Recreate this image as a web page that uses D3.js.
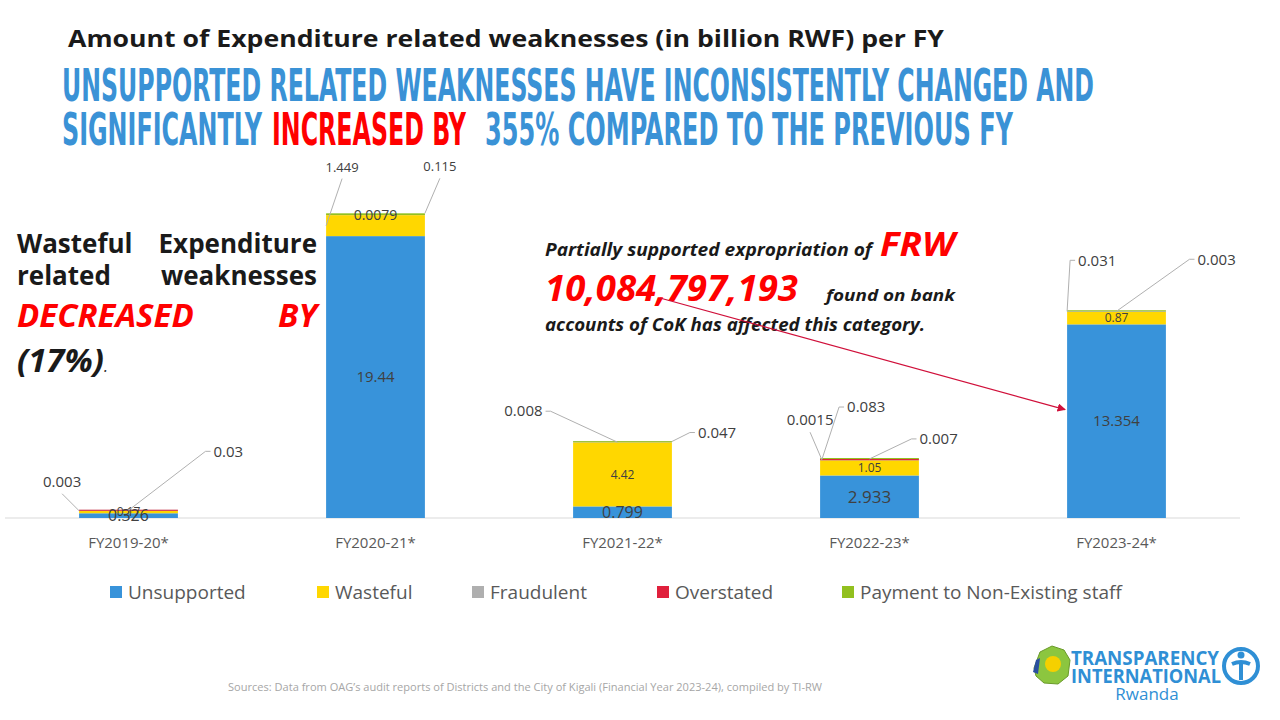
<!DOCTYPE html>
<html>
<head>
<meta charset="utf-8">
<script src="https://cdn.jsdelivr.net/npm/d3@7.9.0/dist/d3.min.js"></script>
<style>
  html, body { margin: 0; padding: 0; background: #fff; }
  svg { display: block; font-family: "Open Sans", sans-serif; }
</style>
</head>
<body>
<svg id="chart" width="1280" height="720"></svg>
<script>
// data (billion RWF)
const years = ['FY2019-20*', 'FY2020-21*', 'FY2021-22*', 'FY2022-23*', 'FY2023-24*'];
const unsupported = [0.326, 19.44, 0.799, 2.933, 13.354];
const wasteful    = [0.17, 1.449, 4.42, 1.05, 0.87];
const fraudulent  = [0.003, 0.0079, 0.008, 0.0015, 0.031];
const overstated  = [0.03, 0, 0, 0.083, 0];
const nonExisting = [0, 0.115, 0.047, 0.007, 0.003];

const series = [
  { key: 'unsupported', label: 'Unsupported', color: '#3893da', values: unsupported },
  { key: 'wasteful',    label: 'Wasteful',    color: '#ffd700', values: wasteful },
  { key: 'fraudulent',  label: 'Fraudulent',  color: '#afafaf', values: fraudulent },
  { key: 'overstated',  label: 'Overstated',  color: '#e0203c', values: overstated },
  { key: 'nonExisting', label: 'Payment to Non-Existing staff', color: '#92c01f', values: nonExisting }
];

// which values are printed inside the bar, and which get a leader line
const insideLabels = [
  { year: 0, key: 'unsupported', size: 16 }, { year: 0, key: 'wasteful', size: 12 },
  { year: 1, key: 'unsupported', size: 15 }, { year: 1, key: 'fraudulent', size: 14 },
  { year: 2, key: 'unsupported', size: 16 }, { year: 2, key: 'wasteful', size: 12 },
  { year: 3, key: 'unsupported', size: 17 }, { year: 3, key: 'wasteful', size: 12 },
  { year: 4, key: 'unsupported', size: 15 }, { year: 4, key: 'wasteful', size: 12 }
];
const callouts = [
  { year: 0, key: 'fraudulent',  frac: 0,    at: 'top', dx: -17, dy: -17, side: 'middle' },
  { year: 0, key: 'overstated',  frac: 0.5,  at: 'top', dx: 77,  dy: -59, side: 'start' },
  { year: 1, key: 'wasteful',    frac: 0,    at: 'mid', dx: 16,  dy: -47, side: 'middle' },
  { year: 1, key: 'nonExisting', frac: 1,    at: 'top', dx: 15,  dy: -35, side: 'middle' },
  { year: 2, key: 'fraudulent',  frac: 0.45, at: 'top', dx: -67, dy: -31, side: 'end' },
  { year: 2, key: 'nonExisting', frac: 1,    at: 'top', dx: 18,  dy: -9,  side: 'start' },
  { year: 3, key: 'fraudulent',  frac: 0.02, at: 'top', dx: -12, dy: -28, side: 'middle' },
  { year: 3, key: 'overstated',  frac: 0.02, at: 'top', dx: 17,  dy: -52, side: 'start' },
  { year: 3, key: 'nonExisting', frac: 0.5,  at: 'top', dx: 42,  dy: -20, side: 'start' },
  { year: 4, key: 'fraudulent',  frac: 0,    at: 'top', dx: 3,   dy: -51, side: 'start' },
  { year: 4, key: 'nonExisting', frac: 0.5,  at: 'top', dx: 73,  dy: -52, side: 'start' }
];

const svg = d3.select('#chart');

const x = d3.scaleBand().domain(years).range([5, 1240]).paddingInner(0.6).paddingOuter(0.3);
const y = d3.scaleLinear().domain([0, 22]).range([518, 199]);

// stack
const rows = years.map((yr, i) => {
  const r = { year: yr };
  series.forEach(s => r[s.key] = s.values[i]);
  return r;
});
const stacked = d3.stack().keys(series.map(s => s.key))(rows);
const segOf = (i, key) => stacked.find(l => l.key === key)[i];

// baseline
svg.append('line')
  .attr('x1', 5).attr('x2', 1240).attr('y1', y(0)).attr('y2', y(0))
  .attr('stroke', '#d9d9d9').attr('stroke-width', 1);

// bars
stacked.forEach((layer, li) => {
  svg.append('g').attr('fill', series[li].color)
    .selectAll('rect').data(layer).join('rect')
    .attr('x', d => x(d.data.year))
    .attr('width', x.bandwidth())
    .attr('y', d => Math.min(y(d[1]), y(d[0]) - (d[1] > d[0] ? 1 : 0)))
    .attr('height', d => d[1] > d[0] ? Math.max(1, y(d[0]) - y(d[1])) : 0);
});

// category axis labels
svg.append('g').selectAll('text').data(years).join('text')
  .attr('x', d => x(d) + x.bandwidth() / 2)
  .attr('y', 548)
  .attr('text-anchor', 'middle')
  .attr('fill', '#595959')
  .style('font-size', '15px')
  .text(d => d);

// inside labels
insideLabels.forEach(l => {
  const seg = segOf(l.year, l.key);
  svg.append('text')
    .attr('x', x(years[l.year]) + x.bandwidth() / 2)
    .attr('y', (y(seg[0]) + y(seg[1])) / 2)
    .attr('dy', '0.35em')
    .attr('text-anchor', 'middle')
    .attr('fill', '#404040')
    .style('font-size', l.size + 'px')
    .text(seg[1] - seg[0] > 0 ? series.find(s => s.key === l.key).values[l.year] : '');
});

// callouts with leader lines
callouts.forEach(c => {
  const seg = segOf(c.year, c.key);
  const ax = x(years[c.year]) + c.frac * x.bandwidth();
  const ay = c.at === 'mid' ? (y(seg[0]) + y(seg[1])) / 2 : y(seg[1]);
  const ex = ax + c.dx, ey = ay + c.dy;
  const pts = [[ax, ay], [ex, ey]];
  let tx = ex, ty = ey - 7, anchor = 'middle', dyT = '0';
  if (c.side === 'start') { pts.push([ex + 5, ey]); tx = ex + 8; ty = ey; anchor = 'start'; dyT = '0.35em'; }
  if (c.side === 'end')   { pts.push([ex - 5, ey]); tx = ex - 8; ty = ey; anchor = 'end'; dyT = '0.35em'; }
  svg.append('path')
    .attr('d', d3.line()(pts))
    .attr('fill', 'none').attr('stroke', '#b0b0b0').attr('stroke-width', 1);
  svg.append('text')
    .attr('x', tx).attr('y', ty).attr('dy', dyT)
    .attr('text-anchor', anchor)
    .attr('fill', '#404040')
    .style('font-size', c.year === 1 ? '13px' : '15px')
    .text(series.find(s => s.key === c.key).values[c.year]);
});

// legend
const legendX = [110, 317, 472, 657, 842];
series.forEach((s, i) => {
  const g = svg.append('g').attr('transform', `translate(${legendX[i]},592)`);
  g.append('rect').attr('x', 0).attr('y', -6).attr('width', 12).attr('height', 12).attr('fill', s.color);
  g.append('text').attr('x', 18).attr('dy', '0.35em')
    .attr('fill', '#595959').style('font-size', '19px').text(s.label);
});

// titles
svg.append('text')
  .attr('x', 68).attr('y', 47)
  .attr('fill', '#1a1a1a')
  .style('font-size', '23px').style('font-weight', 'bold')
  .attr('textLength', 876).attr('lengthAdjust', 'spacingAndGlyphs')
  .text('Amount of Expenditure related weaknesses (in billion RWF) per FY');

const head = (txt, x0, x1, yy, col) => svg.append('text')
  .attr('x', x0).attr('y', yy)
  .attr('fill', col)
  .style('font-family', '"DejaVu Sans Condensed", "DejaVu Sans", sans-serif')
  .style('font-size', '44px').style('font-weight', 'bold')
  .attr('textLength', x1 - x0).attr('lengthAdjust', 'spacingAndGlyphs')
  .text(txt);
head('UNSUPPORTED RELATED WEAKNESSES HAVE INCONSISTENTLY CHANGED  AND', 62, 1094, 101, '#3a92d6');
head('SIGNIFICANTLY', 62, 262, 145, '#3a92d6');
head('INCREASED BY', 272, 466, 145, '#ff0000');
head('355% COMPARED TO THE PREVIOUS FY', 485, 1013, 145, '#3a92d6');

// left annotation (justified)
const just = (l, yy, size, col, italic) => {
  [[l[0], 17, 'start'], [l[1], 317, 'end']].forEach(([t, xx, a]) => {
    svg.append('text').attr('x', xx).attr('y', yy).attr('text-anchor', a)
      .attr('fill', col).style('font-size', size + 'px').style('font-weight', 'bold')
      .style('font-style', italic ? 'italic' : 'normal').text(t);
  });
};
just(['Wasteful', 'Expenditure'], 253, 26, '#1a1a1a', false);
just(['related', 'weaknesses'], 285, 26, '#1a1a1a', false);
just(['DECREASED', 'BY'], 327, 33, '#ff0000', true);
const pct = svg.append('text').attr('x', 17).attr('y', 372).attr('fill', '#1a1a1a')
  .style('font-size', '33px').style('font-weight', 'bold').style('font-style', 'italic');
pct.append('tspan').text('(17%)');
pct.append('tspan').style('font-size', '16px').style('font-weight', 'normal').text('.');

// middle annotation
const note = (txt, x0, x1, yy, size, col) => svg.append('text')
  .attr('x', x0).attr('y', yy).attr('fill', col)
  .style('font-size', size + 'px').style('font-weight', 'bold').style('font-style', 'italic')
  .attr('textLength', x1 - x0).attr('lengthAdjust', 'spacingAndGlyphs')
  .text(txt);
note('Partially supported expropriation of', 545, 872, 256, 18, '#1a1a1a');
note('FRW', 880, 955, 256, 34, '#ff0000');
note('10,084,797,193', 545, 798, 301, 36, '#ff0000');
note('found on bank', 826, 955, 301, 16, '#1a1a1a');
note('accounts of CoK has affected this category.', 545, 925, 331, 17, '#1a1a1a');

// red arrow toward FY2023-24 unsupported bar
svg.append('defs').append('marker')
  .attr('id', 'arr').attr('viewBox', '0 0 10 10').attr('refX', 9).attr('refY', 5)
  .attr('markerWidth', 7).attr('markerHeight', 7).attr('orient', 'auto')
  .append('path').attr('d', 'M0,0L10,5L0,10z').attr('fill', '#d0103a');
svg.append('line')
  .attr('x1', 660).attr('y1', 298)
  .attr('x2', x(years[4]) - 2).attr('y2', y(unsupported[4] * 0.56))
  .attr('stroke', '#d0103a').attr('stroke-width', 1.2)
  .attr('marker-end', 'url(#arr)');

// source
svg.append('text').attr('x', 228).attr('y', 691)
  .attr('fill', '#a6a6a6').style('font-size', '10px')
  .attr('textLength', 594).attr('lengthAdjust', 'spacingAndGlyphs')
  .text('Sources: Data from OAG\u2019s audit reports of Districts and the City of Kigali (Financial Year 2023-24), compiled by TI-RW');

// logo
const logo = svg.append('g');
logo.append('path')
  .attr('d', 'M1034,668 L1040,652 L1052,646 L1064,650 L1070,660 L1068,676 L1058,684 L1044,683 L1036,676 Z')
  .attr('fill', '#8cc63f').attr('stroke', '#6a9a2a');
logo.append('circle').attr('cx', 1053).attr('cy', 664).attr('r', 8).attr('fill', '#f5d000');
logo.append('path').attr('d', 'M1036,660 L1040,658 L1038,674 L1033,672 Z').attr('fill', '#2a4fa0');
logo.append('text').attr('x', 1071).attr('y', 665).attr('fill', '#2f8fd5')
  .style('font-size', '19px').style('font-weight', 'bold')
  .attr('textLength', 148).attr('lengthAdjust', 'spacingAndGlyphs').text('TRANSPARENCY');
logo.append('text').attr('x', 1071).attr('y', 683).attr('fill', '#2f8fd5')
  .style('font-size', '19px').style('font-weight', 'bold')
  .attr('textLength', 150).attr('lengthAdjust', 'spacingAndGlyphs').text('INTERNATIONAL');
logo.append('text').attr('x', 1147).attr('y', 700).attr('text-anchor', 'middle').attr('fill', '#2f8fd5')
  .style('font-size', '17px').text('Rwanda');
logo.append('circle').attr('cx', 1241).attr('cy', 666).attr('r', 17)
  .attr('fill', 'none').attr('stroke', '#2f8fd5').attr('stroke-width', 4);
logo.append('circle').attr('cx', 1241).attr('cy', 655).attr('r', 3.5).attr('fill', '#2f8fd5');
logo.append('path').attr('d', 'M1232,664 Q1241,660 1250,664 M1241,662 L1241,680')
  .attr('fill', 'none').attr('stroke', '#2f8fd5').attr('stroke-width', 4);
</script>
</body>
</html>
